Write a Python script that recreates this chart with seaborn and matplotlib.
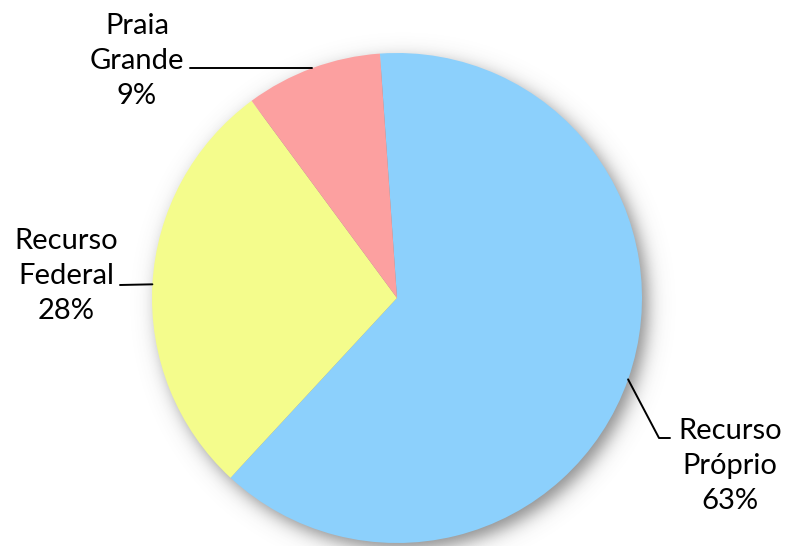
import numpy as np
import matplotlib
matplotlib.use("Agg")
import matplotlib.pyplot as plt
import seaborn as sns

categories = ["Recurso\nPróprio", "Recurso\nFederal", "Praia\nGrande"]
values = [63, 28, 9]
colors = ["#8CD0FC", "#F4FC8C", "#FCA0A0"]

sns.set_theme(style="white")
plt.rcParams["font.family"] = ["Lato", "DejaVu Sans"]

W, H = 787, 546
CX, CY, R = 397, 298, 245


def px(x, y):
    return ((x - CX) / R, (CY - y) / R)


fig = plt.figure(figsize=(W / 100, H / 100), dpi=100)
ax = fig.add_axes([0, 0, 1, 1])

# soft shadow
x0, y0 = px(0, H)
x1, y1 = px(W, 0)
gx = np.linspace(x0, x1, W)
gy = np.linspace(y0, y1, H)
XX, YY = np.meshgrid(gx, gy)
off = (6 / R, -7 / R)
d = np.hypot(XX - off[0], YY - off[1])
alpha = 0.65 / (1 + np.exp((d - 1.0) / (5.5 / R)))
img = np.zeros((H, W, 4))
img[..., :3] = 0.3
img[..., 3] = alpha
ax.imshow(img, extent=(x0, x1, y0, y1), origin="lower", zorder=0, interpolation="bilinear")

wedges, _ = ax.pie(values, colors=colors, startangle=94, counterclock=False,
                   radius=1.0, center=(0, 0), wedgeprops=dict(linewidth=0))
for w in wedges:
    w.set_zorder(2)


def edge(w):
    a = np.deg2rad((w.theta1 + w.theta2) / 2)
    return np.cos(a), np.sin(a)


fs = 21
lw = 1.4
ls = 1.42
# Recurso Próprio
ex, ey = edge(wedges[0])
p1 = px(659, 438); p2 = px(670, 438)
ax.plot([ex, p1[0], p2[0]], [ey, p1[1], p2[1]], color="black", lw=lw, zorder=3)
tx, ty = px(730, 466)
ax.text(tx, ty, f"{categories[0]}\n{values[0]}%", ha="center", va="center",
        fontsize=fs, linespacing=ls, color="black")
# Recurso Federal
ex, ey = edge(wedges[1])
p1 = px(120, 285)
ax.plot([ex, p1[0]], [ey, p1[1]], color="black", lw=lw, zorder=3)
tx, ty = px(66, 276)
ax.text(tx, ty, f"{categories[1]}\n{values[1]}%", ha="center", va="center",
        fontsize=fs, linespacing=ls, color="black")
# Praia Grande
ex, ey = edge(wedges[2])
p1 = px(190, 68)
ax.plot([ex, p1[0]], [p1[1], p1[1]], color="black", lw=lw, zorder=3)
tx, ty = px(137, 61)
ax.text(tx, ty, f"{categories[2]}\n{values[2]}%", ha="center", va="center",
        fontsize=fs, linespacing=ls, color="black")

ax.set_aspect("auto")
ax.set_xlim(x0, x1)
ax.set_ylim(y0, y1)
ax.axis("off")
fig.savefig("out.png", dpi=100)
